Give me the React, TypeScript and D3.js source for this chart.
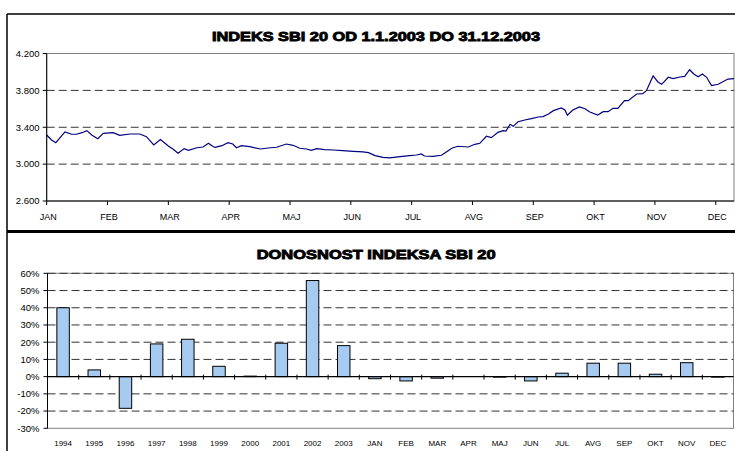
import * as d3 from "d3";

// Indeks SBI 20, 2003 (t = mesec od 1.1., v = vrednost)
const indexT = [0, 0.08, 0.15, 0.3, 0.41, 0.49, 0.58, 0.66, 0.74, 0.84, 0.93, 1.09, 1.2, 1.37, 1.53, 1.64, 1.76, 1.87, 2.0, 2.08, 2.16, 2.26, 2.33, 2.47, 2.57, 2.66, 2.74, 2.77, 2.88, 2.98, 3.06, 3.12, 3.2, 3.34, 3.51, 3.64, 3.78, 3.94, 4.05, 4.16, 4.27, 4.35, 4.44, 4.57, 4.71, 4.87, 5.04, 5.2, 5.29, 5.4, 5.53, 5.64, 5.81, 5.97, 6.08, 6.16, 6.21, 6.35, 6.49, 6.57, 6.66, 6.76, 6.93, 7.04, 7.12, 7.23, 7.31, 7.42, 7.5, 7.55, 7.62, 7.67, 7.75, 7.86, 7.97, 8.08, 8.16, 8.25, 8.33, 8.46, 8.52, 8.56, 8.65, 8.76, 8.85, 8.93, 9.06, 9.15, 9.23, 9.31, 9.39, 9.5, 9.56, 9.7, 9.8, 9.86, 9.97, 10.05, 10.11, 10.22, 10.3, 10.41, 10.49, 10.57, 10.64, 10.71, 10.78, 10.85, 10.93, 11.04, 11.2, 11.3];
const indexV = [3316, 3262, 3233, 3349, 3324, 3324, 3341, 3363, 3316, 3276, 3334, 3341, 3313, 3327, 3327, 3298, 3208, 3266, 3197, 3161, 3118, 3168, 3150, 3178, 3186, 3226, 3189, 3183, 3200, 3233, 3218, 3178, 3200, 3189, 3164, 3175, 3183, 3218, 3204, 3172, 3164, 3150, 3168, 3157, 3153, 3146, 3139, 3132, 3124, 3092, 3074, 3067, 3081, 3092, 3099, 3110, 3088, 3085, 3096, 3132, 3172, 3194, 3186, 3215, 3226, 3302, 3287, 3345, 3363, 3359, 3432, 3410, 3460, 3479, 3493, 3511, 3515, 3544, 3580, 3609, 3587, 3530, 3587, 3620, 3601, 3566, 3533, 3569, 3569, 3605, 3605, 3688, 3688, 3761, 3764, 3797, 3956, 3891, 3866, 3942, 3927, 3945, 3952, 4024, 3978, 3948, 3978, 3942, 3851, 3866, 3923, 3927];

const months = ["JAN", "FEB", "MAR", "APR", "MAJ", "JUN", "JUL", "AVG", "SEP", "OKT", "NOV", "DEC"];
const indexTicks = [2600, 3000, 3400, 3800, 4200];

// Donosnost
const years = ["1994", "1995", "1996", "1997", "1998", "1999", "2000", "2001", "2002", "2003"];
const yearReturns = [40.0, 3.9, -18.4, 19.0, 21.7, 6.0, 0.3, 19.4, 55.8, 18.0];
const monthReturns = [-1.2, -2.5, -0.9, 0.0, -0.3, -2.5, 2.0, 7.8, 7.8, 1.4, 8.1, -0.3];
const returnTicks = [-30, -20, -10, 0, 10, 20, 30, 40, 50, 60];

const FONT = "'Liberation Sans', Arial, sans-serif";
const fmtIdx = (v: number) => d3.format(",")(v).replace(",", ".");

export default function App() {
  // gornji graf
  const x1 = d3.scaleLinear().domain([0, 11.3]).range([46.7, 734]);
  const y1 = d3.scaleLinear().domain([2600, 4200]).range([201, 53.5]);
  const line = d3
    .line<number>()
    .x((_, i) => x1(indexT[i]))
    .y((d) => y1(d));

  // spodnji graf
  const cats = [...years, ...months];
  const vals = [...yearReturns, ...monthReturns];
  const x2 = d3.scaleBand().domain(cats).range([47.5, 733.5]).paddingInner(0).paddingOuter(0);
  const y2 = d3.scaleLinear().domain([-30, 60]).range([428.3, 273.3]);
  const bw = x2.bandwidth() * 0.4;

  return (
    <svg
      width={735}
      height={451}
      style={{ position: "fixed", left: 0, top: 0, background: "#fff" }}
      fontFamily={FONT}
    >
      {/* okvir */}
      <line x1={7} x2={735} y1={14} y2={14} stroke="#000" strokeWidth={1.5} />
      <line x1={7} x2={7} y1={14} y2={451} stroke="#000" strokeWidth={1.5} />
      <line x1={7} x2={735} y1={231.5} y2={231.5} stroke="#000" strokeWidth={3} />

      {/* ---- INDEKS ---- */}
      <text x={376} y={40.5} textAnchor="middle" fontSize={13.5} fontWeight="bold" textLength={328} lengthAdjust="spacingAndGlyphs" stroke="#000" strokeWidth={0.9}>
        INDEKS SBI 20 OD 1.1.2003 DO 31.12.2003
      </text>
      <rect x={x1(0)} y={y1(4200)} width={x1(11.3) - x1(0)} height={y1(2600) - y1(4200)} fill="none" stroke="#808080" strokeWidth={1} />
      {indexTicks.slice(1, 4).map((t) => (
        <line key={t} x1={x1(0)} x2={x1(11.3)} y1={y1(t)} y2={y1(t)} stroke="#333" strokeWidth={1} strokeDasharray="8,4" />
      ))}
      <path d={line(indexV) || ""} fill="none" stroke="#000080" strokeWidth={1.2} />
      <line x1={x1(0)} x2={x1(0)} y1={y1(4200)} y2={y1(2600)} stroke="#000" strokeWidth={1} />
      <line x1={x1(0)} x2={x1(11.3)} y1={y1(2600)} y2={y1(2600)} stroke="#000" strokeWidth={1} />
      {indexTicks.map((t) => (
        <g key={t}>
          <line x1={x1(0) - 4} x2={x1(0)} y1={y1(t)} y2={y1(t)} stroke="#000" />
          <text x={39.5} y={y1(t)} dy="0.35em" textAnchor="end" fontSize={9.5}>
            {fmtIdx(t)}
          </text>
        </g>
      ))}
      {months.map((m, i) => (
        <g key={m}>
          <line x1={x1(i)} x2={x1(i)} y1={y1(2600)} y2={y1(2600) + 4} stroke="#000" />
          <text x={x1(i) + 1.5} y={220} textAnchor="middle" fontSize={9}>
            {m}
          </text>
        </g>
      ))}

      {/* ---- DONOSNOST ---- */}
      <text x={376.2} y={259.3} textAnchor="middle" fontSize={13.5} fontWeight="bold" textLength={239} lengthAdjust="spacingAndGlyphs" stroke="#000" strokeWidth={0.9}>
        DONOSNOST INDEKSA SBI 20
      </text>
      <rect x={47.5} y={y2(60)} width={686} height={y2(-30) - y2(60)} fill="none" stroke="#808080" strokeWidth={1} />
      {returnTicks
        .filter((t) => t !== 0 && t !== -30)
        .map((t) => (
          <line key={t} x1={47.5} x2={733.5} y1={y2(t)} y2={y2(t)} stroke="#333" strokeWidth={1} strokeDasharray="8,4" />
        ))}
      {cats.map((c, i) => {
        const v = vals[i];
        const cx = (x2(c) as number) + x2.bandwidth() / 2;
        return (
          <rect
            key={c}
            x={cx - bw / 2}
            y={y2(Math.max(0, v))}
            width={bw}
            height={Math.abs(y2(v) - y2(0))}
            fill="#a6caf0"
            stroke="#000"
            strokeWidth={1}
          />
        );
      })}
      <line x1={47.5} x2={47.5} y1={y2(60)} y2={y2(-30)} stroke="#000" />
      <line x1={47.5} x2={733.5} y1={y2(0)} y2={y2(0)} stroke="#000" strokeWidth={1.2} />
      {returnTicks.map((t) => (
        <g key={t}>
          <line x1={43.5} x2={47.5} y1={y2(t)} y2={y2(t)} stroke="#000" />
          <text x={39.5} y={y2(t)} dy="0.35em" textAnchor="end" fontSize={9.5}>
            {t + "%"}
          </text>
        </g>
      ))}
      {cats.map((c) => (
        <g key={c}>
          <line x1={x2(c) as number} x2={x2(c) as number} y1={y2(0) - 2} y2={y2(0) + 3} stroke="#000" />
          <text x={(x2(c) as number) + x2.bandwidth() / 2} y={445.5} textAnchor="middle" fontSize={8}>
            {c}
          </text>
        </g>
      ))}
    </svg>
  );
}
